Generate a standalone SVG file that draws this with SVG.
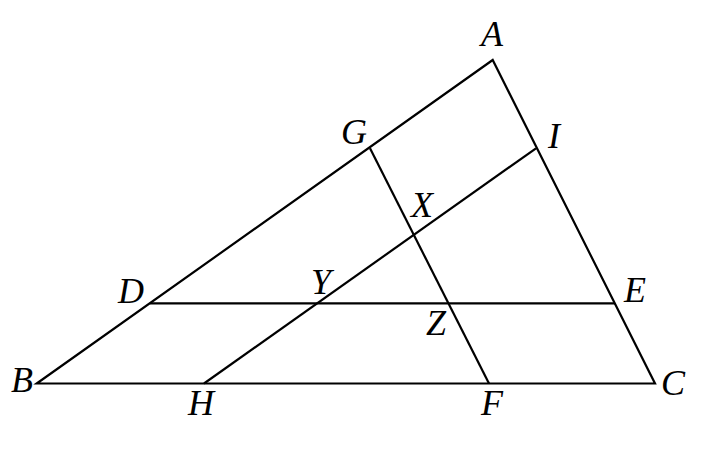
<svg xmlns="http://www.w3.org/2000/svg" width="707" height="460" viewBox="0 0 707 460">
<style>
.ln{stroke:#000;stroke-width:2.2;fill:none;stroke-linejoin:miter;stroke-linecap:butt}
.lb{font-family:"Liberation Serif","DejaVu Serif",serif;font-style:italic;font-size:36px;fill:#000;text-anchor:middle}
</style>
<rect width="707" height="460" fill="#fff"/>
<g id="connectors">
<polygon class="ln" points="492.7,60 36.7,383.5 655,383.5"/>
<line class="ln" x1="150" y1="303.3" x2="615" y2="303.3"/>
<line class="ln" x1="370" y1="148.3" x2="489" y2="383.5"/>
<line class="ln" x1="536" y1="148.3" x2="204" y2="383.5"/>
</g>
<g id="A"><text class="lb" x="492" y="46">A</text></g>
<g id="B"><text class="lb" x="22" y="392">B</text></g>
<g id="C"><text class="lb" x="673" y="395">C</text></g>
<g id="G"><text class="lb" x="354" y="144">G</text></g>
<g id="I"><text class="lb" x="554" y="148">I</text></g>
<g id="X"><text class="lb" x="422" y="217">X</text></g>
<g id="D"><text class="lb" x="131" y="303">D</text></g>
<g id="Y"><text class="lb" x="321" y="294">Y</text></g>
<g id="Z"><text class="lb" x="436" y="335">Z</text></g>
<g id="E"><text class="lb" x="635" y="302">E</text></g>
<g id="H"><text class="lb" x="201" y="415">H</text></g>
<g id="F"><text class="lb" x="492" y="415">F</text></g>
</svg>
